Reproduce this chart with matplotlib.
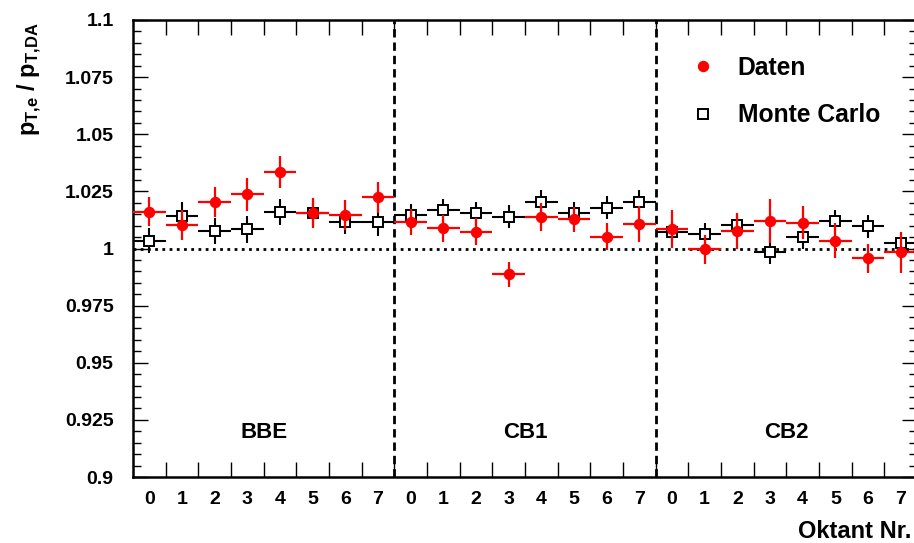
import matplotlib
matplotlib.use("Agg")
import matplotlib.pyplot as plt
from matplotlib.lines import Line2D
from matplotlib.ticker import MultipleLocator, FixedLocator, FuncFormatter
import numpy as np

plt.rcParams["font.family"] = ["Liberation Sans", "DejaVu Sans"]
plt.rcParams["font.weight"] = "bold"
plt.rcParams["mathtext.fontset"] = "custom"
plt.rcParams["mathtext.bf"] = "Liberation Sans:bold"
plt.rcParams["mathtext.rm"] = "Liberation Sans:bold"
plt.rcParams["mathtext.it"] = "Liberation Sans:bold"

# three detector regions, eight octants each
regions = ["BBE", "CB1", "CB2"]
octants = [0, 1, 2, 3, 4, 5, 6, 7]

daten = [1.0161, 1.0103, 1.0202, 1.0237, 1.0335, 1.0154, 1.0147, 1.0225,
         1.0117, 1.0088, 1.0074, 0.9888, 1.0139, 1.0128, 1.0052, 1.0106,
         1.0084, 0.9996, 1.0077, 1.0120, 1.0113, 1.0034, 0.9957, 0.9983]
daten_err = [0.0063, 0.0066, 0.0066, 0.0071, 0.0069, 0.0066, 0.0066, 0.0068,
             0.0058, 0.0058, 0.0060, 0.0055, 0.0062, 0.0055, 0.0058, 0.0079,
             0.0083, 0.0063, 0.0077, 0.0098, 0.0073, 0.0077, 0.0064, 0.0090]

mc = [1.0034, 1.0144, 1.0077, 1.0084, 1.0158, 1.0154, 1.0115, 1.0115,
      1.0145, 1.0168, 1.0154, 1.0139, 1.0205, 1.0157, 1.0179, 1.0205,
      1.0074, 1.0063, 1.0103, 0.9985, 1.0052, 1.0120, 1.0098, 1.0023]
mc_err = [0.0055, 0.0060, 0.0058, 0.0060, 0.0057, 0.0055, 0.0050, 0.0060,
          0.0050, 0.0050, 0.0050, 0.0050, 0.0050, 0.0048, 0.0050, 0.0050,
          0.0040, 0.0050, 0.0050, 0.0053, 0.0053, 0.0050, 0.0050, 0.0045]

nbins = len(regions) * len(octants)
x = np.arange(nbins)

fig = plt.figure(figsize=(9.14, 5.43), dpi=100)
ax = fig.add_axes([133 / 914, 66 / 543, 784 / 914, 457 / 543])

# Monte Carlo: open squares, bin-wide horizontal bars
ax.errorbar(x, mc, yerr=mc_err, xerr=0.5, fmt="s", color="black",
            mfc="white", mec="black", ms=7.4, mew=1.4, elinewidth=1.5,
            capsize=0, zorder=3)
# data on top
ax.errorbar(x, daten, yerr=daten_err, xerr=0.5, fmt="o", color="red",
            ms=7.2, elinewidth=1.6, capsize=0, zorder=4)

# reference line and region separators
ax.axhline(1.0, color="black", lw=2, ls=(0, (1, 1.6)), zorder=2)
for b in range(1, len(regions)):
    ax.axvline(b * len(octants) - 0.5, color="black", lw=2,
               ls=(0, (3, 1.8)), zorder=2)

for i, name in enumerate(regions):
    ax.text(i * len(octants) + 3.5, 0.9195, name, ha="center", va="center",
            fontsize=16, fontweight="bold")

ax.set_xlim(-0.5, nbins - 0.5)
ax.set_ylim(0.9, 1.1)

# ticks on bin edges, labels at bin centres
ax.xaxis.set_major_locator(FixedLocator(np.arange(0.5, nbins - 0.5)))
ax.xaxis.set_major_formatter(FuncFormatter(lambda v, p: ""))
ax.set_xticks(x, [str(o) for o in octants] * len(regions), minor=True)
ax.tick_params(axis="x", which="major", direction="in", length=11,
               width=1, top=True, bottom=True)
ax.tick_params(axis="x", which="minor", length=0, pad=10, labelsize=14)

ax.yaxis.set_major_locator(MultipleLocator(0.025))
ax.yaxis.set_minor_locator(MultipleLocator(0.005))
ax.yaxis.set_major_formatter(FuncFormatter(lambda v, p: "%g" % round(v, 4)))
ax.tick_params(axis="y", which="major", direction="in", length=11,
               width=1, left=True, right=True, pad=14, labelsize=14)
ax.tick_params(axis="y", which="minor", direction="in", length=6,
               width=1, left=True, right=True)

for s in ax.spines.values():
    s.set_linewidth(1.8)

handles = [Line2D([], [], marker="o", color="red", ls="none", ms=7.2),
           Line2D([], [], marker="s", mfc="white", mec="black", ls="none",
                  ms=7.4, mew=1.4)]
ax.legend(handles, ["Daten", "Monte Carlo"], loc="upper left",
          bbox_to_anchor=(691 / 914, 1 - 56 / 543),
          bbox_transform=fig.transFigure, frameon=False,
          handlelength=1.0, handletextpad=0.9, labelspacing=0.95,
          borderpad=0, borderaxespad=0,
          prop={"weight": "bold", "size": 17.7})

fig.text(30 / 914, 1 - 22 / 543,
         r"$\mathbf{p_{T{,}e}}$ / $\mathbf{p_{T{,}DA}}$",
         rotation=90, ha="center", va="top", fontsize=17, fontweight="bold")
fig.text(911 / 914, 1 - 532 / 543, "Oktant Nr.", ha="right", va="center",
         fontsize=17, fontweight="bold")

fig.savefig("out.png", dpi=100)
